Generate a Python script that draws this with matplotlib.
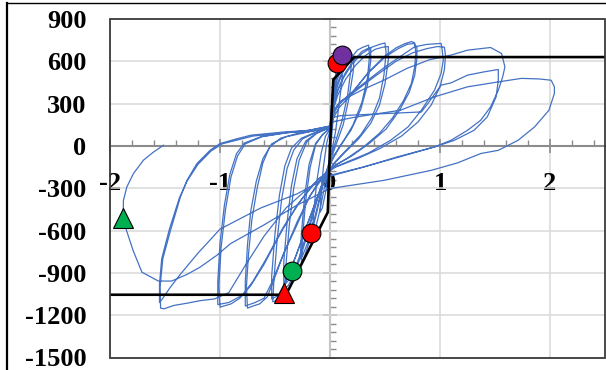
import matplotlib.pyplot as plt
from matplotlib.lines import Line2D
from matplotlib.patches import Rectangle
from matplotlib.ticker import MultipleLocator

# ---- hysteresis record, one list of (drift, load) points per cycle ----
cycle01 = [(0, 0), (0.01, 180), (0.03, 380), (0.05, 500), (0.06, 530), (0.05, 400), (0.03, 200),
           (0.01, 20), (-0.01, -150), (-0.04, -330), (-0.07, -440), (-0.09, -470), (-0.08, -330),
           (-0.06, -150), (-0.03, 20), (0.0, 110)]
cycle02 = [(0.01, 260), (0.04, 440), (0.08, 540), (0.12, 600), (0.11, 470), (0.08, 280), (0.05, 100),
           (0.01, -60), (-0.04, -250), (-0.09, -450), (-0.13, -580), (-0.16, -640), (-0.15, -480),
           (-0.12, -250), (-0.08, -50), (-0.04, 70), (0.0, 120)]
cycle03 = [(0.02, 300), (0.06, 460), (0.11, 560), (0.16, 620), (0.2, 650), (0.19, 540), (0.16, 360),
           (0.11, 180), (0.05, 30), (0.0, -90), (-0.06, -260), (-0.12, -470), (-0.18, -660),
           (-0.23, -780), (-0.26, -830), (-0.25, -650), (-0.22, -380), (-0.18, -150), (-0.13, 10),
           (-0.07, 80), (0.0, 125)]
cycle04 = [(0.02, 280), (0.07, 450), (0.13, 560), (0.19, 615), (0.22, 630), (0.21, 520), (0.17, 330),
           (0.12, 150), (0.06, 20), (0.0, -110), (-0.07, -290), (-0.14, -510), (-0.2, -680),
           (-0.25, -780), (-0.27, -800), (-0.26, -620), (-0.23, -350), (-0.19, -130), (-0.13, 20),
           (-0.06, 85), (0.0, 128)]
cycle05 = [(0.02, 260), (0.06, 410), (0.12, 530), (0.19, 620), (0.25, 680), (0.3, 700), (0.35, 715),
           (0.36, 640), (0.34, 480), (0.29, 310), (0.21, 150), (0.12, 30), (0.04, -70), (-0.02, -170),
           (-0.1, -340), (-0.18, -560), (-0.26, -770), (-0.33, -920), (-0.38, -990), (-0.41, -1010),
           (-0.40, -840), (-0.37, -560), (-0.33, -300), (-0.28, -100), (-0.21, 30), (-0.12, 90),
           (0.0, 130)]
cycle06 = [(0.02, 250), (0.07, 400), (0.14, 520), (0.22, 610), (0.29, 670), (0.34, 690), (0.37, 695),
           (0.37, 600), (0.34, 430), (0.28, 260), (0.19, 110), (0.09, 0), (0.02, -90), (-0.04, -190),
           (-0.12, -380), (-0.2, -590), (-0.28, -790), (-0.35, -930), (-0.42, -990), (-0.42, -820),
           (-0.39, -540), (-0.35, -280), (-0.3, -90), (-0.22, 35), (-0.12, 92), (0.0, 132)]
cycle07 = [(0.02, 240), (0.06, 370), (0.12, 480), (0.2, 580), (0.29, 655), (0.38, 700), (0.45, 720),
           (0.5, 730), (0.51, 660), (0.49, 500), (0.45, 340), (0.38, 200), (0.28, 80), (0.16, -20),
           (0.05, -110), (-0.02, -190), (-0.1, -340), (-0.2, -540), (-0.3, -760), (-0.39, -940),
           (-0.45, -1050), (-0.5, -1100), (-0.52, -1105), (-0.51, -950), (-0.48, -660), (-0.44, -380),
           (-0.39, -160), (-0.33, -30), (-0.25, 50), (-0.13, 95), (0.0, 135)]
cycle08 = [(0.02, 230), (0.07, 360), (0.14, 470), (0.23, 570), (0.32, 640), (0.41, 685), (0.48, 700),
           (0.53, 705), (0.53, 610), (0.5, 440), (0.45, 290), (0.37, 160), (0.26, 50), (0.13, -50),
           (0.03, -130), (-0.04, -210), (-0.13, -390), (-0.23, -610), (-0.33, -820), (-0.41, -970),
           (-0.47, -1060), (-0.53, -1085), (-0.53, -920), (-0.5, -620), (-0.46, -350), (-0.41, -140),
           (-0.35, -15), (-0.26, 55), (-0.13, 97), (0.0, 138)]
cycle09 = [(0.02, 180), (0.08, 270), (0.19, 360), (0.34, 514), (0.49, 632), (0.6, 695), (0.68, 725),
           (0.74, 740), (0.77, 731), (0.78, 656), (0.77, 561), (0.74, 443), (0.67, 324), (0.57, 200),
           (0.45, 90), (0.3, -10), (0.15, -90), (0.0, -160), (-0.1, -250), (-0.2, -380), (-0.3, -560),
           (-0.42, -760), (-0.51, -950), (-0.57, -1070), (-0.64, -1120), (-0.7, -1135), (-0.75, -1150),
           (-0.76, -1000), (-0.74, -760), (-0.71, -520), (-0.66, -290), (-0.61, -120), (-0.55, -10),
           (-0.45, 55), (-0.3, 88), (-0.15, 105), (0.0, 138)]
cycle10 = [(0.02, 200), (0.07, 290), (0.2, 380), (0.35, 520), (0.5, 630), (0.62, 690), (0.7, 720),
           (0.76, 727), (0.79, 700), (0.79, 620), (0.77, 500), (0.72, 380), (0.63, 250), (0.51, 120),
           (0.36, 20), (0.2, -70), (0.04, -140), (-0.06, -220), (-0.18, -350), (-0.3, -540),
           (-0.43, -780), (-0.53, -970), (-0.6, -1080), (-0.68, -1110), (-0.77, -1135), (-0.77, -960),
           (-0.75, -700), (-0.72, -460), (-0.67, -250), (-0.61, -90), (-0.53, 15), (-0.4, 65),
           (-0.22, 95), (0.0, 140)]
cycle11 = [(0.02, 220), (0.08, 300), (0.2, 380), (0.35, 470), (0.5, 560), (0.65, 640), (0.77, 703),
           (0.88, 720), (1.01, 727), (1.02, 679), (1.03, 608), (1.01, 514), (0.95, 395), (0.83, 253),
           (0.71, 135), (0.55, 40), (0.35, -50), (0.15, -115), (0.0, -165), (-0.15, -270), (-0.3, -420),
           (-0.45, -620), (-0.6, -840), (-0.72, -990), (-0.82, -1080), (-0.9, -1120), (-1.0, -1143),
           (-1.01, -990), (-0.99, -720), (-0.95, -450), (-0.9, -220), (-0.84, -70), (-0.77, 15),
           (-0.62, 65), (-0.4, 92), (-0.2, 108), (0.0, 140)]
cycle12 = [(0.02, 230), (0.1, 310), (0.25, 400), (0.42, 500), (0.6, 600), (0.75, 660), (0.88, 690),
           (0.98, 705), (1.04, 700), (1.05, 640), (1.04, 540), (1.0, 420), (0.92, 290), (0.8, 170),
           (0.65, 70), (0.45, -20), (0.25, -90), (0.05, -150), (-0.1, -230), (-0.25, -370),
           (-0.42, -570), (-0.58, -800), (-0.7, -960), (-0.8, -1060), (-0.92, -1110), (-1.02, -1125),
           (-1.02, -960), (-1.0, -690), (-0.96, -420), (-0.91, -200), (-0.85, -55), (-0.78, 20),
           (-0.62, 68), (-0.4, 94), (-0.2, 110), (0.0, 142)]
cycle13 = [(0.02, 240), (0.1, 320), (0.3, 400), (0.5, 470), (0.7, 550), (0.9, 610), (1.10, 644),
           (1.25, 679), (1.46, 698), (1.56, 655), (1.59, 560), (1.57, 490), (1.53, 395), (1.46, 277),
           (1.37, 182), (1.25, 111), (1.10, 40), (0.95, -7), (0.61, -78), (0.31, -149), (0.0, -208),
           (-0.2, -300), (-0.4, -440), (-0.6, -640), (-0.78, -860), (-0.92, -1040), (-1.05, -1085),
           (-1.18, -1097), (-1.3, -1115), (-1.42, -1131), (-1.51, -1155), (-1.54, -1150),
           (-1.545, -1000), (-1.52, -800), (-1.45, -599), (-1.36, -362), (-1.30, -244), (-1.21, -125),
           (-1.09, -31), (-1.0, 17), (-0.85, 50), (-0.72, 76), (-0.42, 99), (-0.18, 111), (0.0, 135)]
cycle14 = [(0.01, 200), (0.1, 215), (0.3, 222), (0.6, 232), (0.83, 241), (0.89, 301), (1.01, 431),
           (1.10, 447), (1.25, 502), (1.40, 525), (1.53, 542), (1.53, 466), (1.51, 348), (1.43, 206),
           (1.31, 111), (1.13, 40), (0.95, -7), (0.6, -85), (0.3, -150), (0.0, -215), (-0.3, -340),
           (-0.63, -440), (-1.0, -590), (-1.2, -760), (-1.35, -900), (-1.45, -1000), (-1.52, -1080),
           (-1.55, -1110), (-1.55, -980), (-1.53, -800), (-1.46, -590), (-1.37, -370), (-1.30, -250),
           (-1.20, -130), (-1.08, -35), (-0.98, 15), (-0.7, 70), (-0.4, 95), (-0.15, 108), (0.0, 130)]
cycle15 = [(0.02, 170), (0.2, 200), (0.4, 225), (0.64, 253), (0.95, 348), (1.25, 419), (1.53, 454),
           (1.74, 479), (1.90, 475), (2.01, 466), (2.04, 420), (2.04, 372), (1.99, 253), (1.86, 135),
           (1.71, 40), (1.53, -31), (1.37, -54), (1.16, -120), (0.92, -173), (0.49, -244), (0.0, -302),
           (-0.3, -420), (-0.6, -560), (-0.905, -693), (-1.03, -776), (-1.18, -859), (-1.30, -911),
           (-1.44, -958), (-1.56, -958), (-1.71, -895), (-1.79, -741), (-1.85, -599), (-1.88, -516),
           (-1.878, -386), (-1.847, -291), (-1.787, -196), (-1.696, -101), (-1.604, -43), (-1.513, 5)]

cycles = [cycle01, cycle02, cycle03, cycle04, cycle05, cycle06, cycle07, cycle08,
          cycle09, cycle10, cycle11, cycle12, cycle13, cycle14, cycle15]

# ---- idealised backbone (bilinear envelope) ----
env_pos_x = [0, 0.03, 0.22, 2.5]
env_pos_y = [0, 470, 630, 630]
env_neg_x = [0, -0.02, -0.40, -2.0]
env_neg_y = [0, -470, -1055, -1055]

# ---- characteristic points ----
yield_pts = [(0.061, 585), (-0.176, -615)]      # red circles
peak_pos = (0.113, 645)                          # purple circle
peak_neg = (-0.349, -890)                        # green circle
ult_neg = (-0.42, -1045)                         # red triangle
fail_pt = (-1.883, -512)                         # green triangle

x_ticks = [-2, -1, 0, 1, 2]
y_ticks = [-1500, -1200, -900, -600, -300, 0, 300, 600, 900]

plt.rcParams['font.family'] = ['Liberation Serif', 'DejaVu Serif']
plt.rcParams['axes.unicode_minus'] = False

fig = plt.figure(figsize=(6.06, 3.70), dpi=100)
ax = fig.add_axes([110 / 606, 1 - 357.5 / 370, 495 / 606, 338.5 / 370])
ax.set_xlim(-2, 2.5)
ax.set_ylim(-1500, 900)

# grid
ax.grid(True, which='major', color='#D9D9D9', lw=1.1, zorder=0)
ax.set_axisbelow(True)

# hysteresis loops as one continuous record
xs, ys = [], []
for c in cycles:
    xs += [p[0] for p in c]
    ys += [p[1] for p in c]
ax.plot(xs, ys, color='#4472C4', lw=0.9, zorder=3)

# envelope
ax.plot(env_pos_x, env_pos_y, color='black', lw=1.9, zorder=4)
ax.plot(env_neg_x, env_neg_y, color='black', lw=1.9, zorder=4)

# markers
mk = dict(markeredgecolor='black', markeredgewidth=0.8, linestyle='none', zorder=5)
ax.plot([p[0] for p in yield_pts], [p[1] for p in yield_pts], 'o', ms=13.5, color='#FF0000', **mk)
ax.plot(*peak_pos, 'o', ms=13.5, color='#7030A0', **mk)
ax.plot(*peak_neg, 'o', ms=13.5, color='#00B050', **mk)
ax.plot(*ult_neg, '^', ms=14, color='#FF0000', **mk)
ax.plot(*fail_pt, '^', ms=14, color='#00B050', **mk)

# x axis runs through y = 0
for s in ['top', 'right', 'left']:
    ax.spines[s].set_visible(False)
ax.spines['bottom'].set_position(('data', 0))
ax.spines['bottom'].set_color('#8C8C8C')
ax.spines['bottom'].set_linewidth(1.5)
ax.spines['bottom'].set_zorder(2)
ax.xaxis.set_minor_locator(MultipleLocator(0.2))
ax.set_xticks(x_ticks)
ax.tick_params(axis='x', which='major', direction='inout', length=10, width=1.2,
               color='#8C8C8C', pad=13.5, labelsize=19)
ax.tick_params(axis='x', which='minor', direction='in', length=4, width=1.0, color='#8C8C8C')
for lab in ax.get_xticklabels():
    lab.set_fontweight('bold')

# y labels on the left edge, no ticks there
ax.set_yticks(y_ticks)
ax.yaxis.set_minor_locator(MultipleLocator(60))
ax.tick_params(axis='y', which='both', length=0, pad=17, labelsize=19)
for lab in ax.get_yticklabels():
    lab.set_fontweight('bold')

# y axis line with ticks through x = 0
sec = ax.secondary_yaxis(0, transform=ax.transData)
sec.set_yticks(y_ticks)
sec.yaxis.set_minor_locator(MultipleLocator(60))
sec.tick_params(which='major', direction='inout', length=10, width=1.2, color='#8C8C8C',
                labelleft=False)
sec.tick_params(which='minor', direction='in', length=4, width=1.0, color='#8C8C8C')
sec.spines['left'].set_color('#8C8C8C')
sec.spines['left'].set_linewidth(1.5)

# plot-area frame
ax.add_patch(Rectangle((0, 0), 1, 1, transform=ax.transAxes, fill=False,
                       ec='#3A3A3A', lw=1.3, clip_on=False, zorder=6))

# outer frame
fig.add_artist(Line2D([7 / 606, 7 / 606], [0, 1 - 3 / 370], color='black', lw=1.6))
fig.add_artist(Line2D([7 / 606, 1], [1 - 3 / 370, 1 - 3 / 370], color='black', lw=1.0))

fig.savefig('out.png', dpi=100)
